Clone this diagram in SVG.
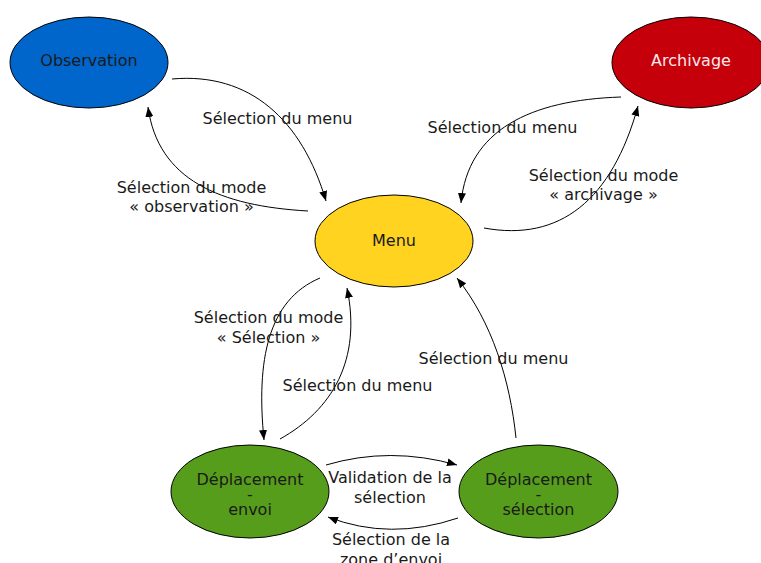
<svg xmlns="http://www.w3.org/2000/svg" width="761" height="563" viewBox="0 0 761 563">
<defs>
<marker id="arr" viewBox="0 0 10 8" refX="10" refY="4" markerWidth="10" markerHeight="8" markerUnits="userSpaceOnUse" orient="auto">
<path d="M0,0 L10,4 L0,8 Z" fill="#000"/>
</marker>
<style>
.n{stroke:#000;stroke-width:1}
text{font-family:"DejaVu Sans","Liberation Sans",sans-serif;font-size:16px;fill:#1a1a1a;text-anchor:middle}
.c path{fill:none;stroke:#000;stroke-width:1;marker-end:url(#arr)}
</style>
</defs>
<rect width="761" height="563" fill="#fff"/>
<g id="observation"><ellipse class="n" cx="89" cy="62.5" rx="79" ry="45.5" fill="#0066cc"/><text x="89" y="66">Observation</text></g>
<g id="archivage"><ellipse class="n" cx="691" cy="62.5" rx="79" ry="45.5" fill="#c5000b"/><text x="691" y="66" style="fill:#fbe9e9">Archivage</text></g>
<g id="menu"><ellipse class="n" cx="394" cy="241" rx="79" ry="46" fill="#ffd320"/><text x="394" y="246">Menu</text></g>
<g id="deplacement-envoi"><ellipse class="n" cx="250" cy="491.5" rx="79" ry="46.5" fill="#579d1c"/><text x="250" y="485">Déplacement</text><text x="250" y="500">-</text><text x="250" y="515">envoi</text></g>
<g id="deplacement-selection"><ellipse class="n" cx="538.5" cy="491.5" rx="79.5" ry="46.5" fill="#579d1c"/><text x="538.5" y="485">Déplacement</text><text x="538.5" y="500">-</text><text x="538.5" y="515">sélection</text></g>
<g id="connectors" class="c">
<path d="M172,79 C250,72 302,120 326,201"/>
<path d="M308,211 C220,206 158,180 148,107"/>
<path d="M621,97 C530,100 468,130 461,203"/>
<path d="M484,228 C560,242 612,200 638,106"/>
<path d="M320,278 C268,300 256,360 264,440"/>
<path d="M280,439 C332,410 362,360 347,288"/>
<path d="M516,438 C510,380 492,322 457,278"/>
<path d="M326,465 Q390,446 457,465"/>
<path d="M458,518 Q390,541 328,517"/>
</g>
<g id="labels">
<text x="277.5" y="124">Sélection du menu</text>
<text x="191.5" y="193">Sélection du mode</text>
<text x="191.5" y="212">« observation »</text>
<text x="502.5" y="133">Sélection du menu</text>
<text x="603.5" y="181">Sélection du mode</text>
<text x="603.5" y="200">« archivage »</text>
<text x="268.5" y="323">Sélection du mode</text>
<text x="268.5" y="343">« Sélection »</text>
<text x="357.5" y="391">Sélection du menu</text>
<text x="493.5" y="364">Sélection du menu</text>
<text x="390" y="483">Validation de la</text>
<text x="390" y="503">sélection</text>
<text x="391" y="545">Sélection de la</text>
<text x="391" y="565">zone d’envoi</text>
</g>
</svg>
